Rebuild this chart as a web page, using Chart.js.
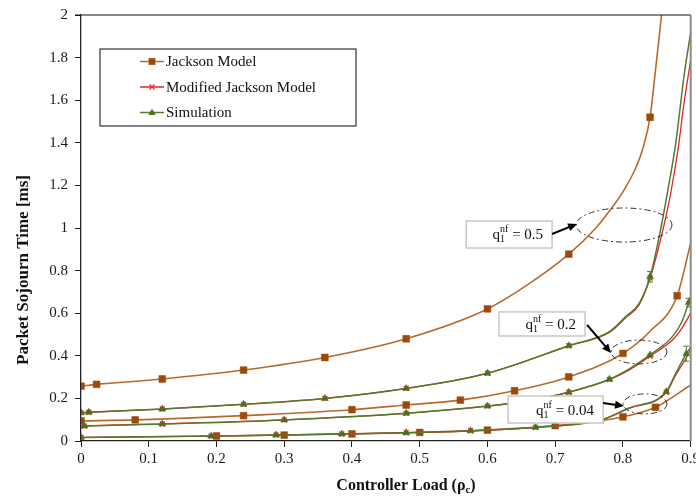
<!DOCTYPE html>
<html>
<head>
<meta charset="utf-8">
<script src="https://cdn.jsdelivr.net/npm/chart.js@4.4.0/dist/chart.umd.min.js"></script>
<style>
  html, body { margin: 0; padding: 0; background: #fff; }
  #wrap { width: 696px; height: 498px; }
</style>
</head>
<body>
<div id="wrap"><canvas id="chart"></canvas></div>
<script>
// axis ticks
const xTicks = [0, 0.1, 0.2, 0.3, 0.4, 0.5, 0.6, 0.7, 0.8, 0.9];
const yTicks = [0, 0.2, 0.4, 0.6, 0.8, 1, 1.2, 1.4, 1.6, 1.8, 2];

// q1nf = 0.5
const jack05MarkX = [0, 0.023, 0.12, 0.24, 0.36, 0.48, 0.6, 0.72, 0.84];
const jack05MarkY = [0.258, 0.266, 0.291, 0.333, 0.392, 0.48, 0.62, 0.877, 1.52];
const jack05LineX = [0.66, 0.76, 0.78, 0.80, 0.82, 0.83, 0.848, 0.857];
const jack05LineY = [0.735, 1.0, 1.08, 1.17, 1.29, 1.38, 1.74, 2.0];

const mod05MarkX = [0, 0.0115, 0.12, 0.24, 0.36, 0.48, 0.6, 0.72, 0.84];
const mod05MarkY = [0.133, 0.135, 0.150, 0.172, 0.20, 0.247, 0.318, 0.447, 0.765];
const mod05LineX = [0.78, 0.804, 0.824, 0.8596, 0.8705, 0.8827, 0.8887, 0.9];
const mod05LineY = [0.51, 0.578, 0.64, 1.0, 1.164, 1.40, 1.554, 1.79];

const sim05MarkX = [0, 0.0115, 0.12, 0.24, 0.36, 0.48, 0.6, 0.72, 0.84];
const sim05MarkY = [0.133, 0.135, 0.150, 0.172, 0.20, 0.247, 0.318, 0.447, 0.771];
const sim05Err   = [0, 0, 0, 0, 0, 0, 0, 0, 0.025];
const sim05LineX = [0.78, 0.804, 0.824, 0.856, 0.8655, 0.878, 0.89, 0.9];
const sim05LineY = [0.513, 0.584, 0.646, 1.0, 1.164, 1.40, 1.71, 1.92];

// q1nf = 0.2
const jack02MarkX = [0, 0.08, 0.24, 0.40, 0.48, 0.56, 0.64, 0.72, 0.80, 0.88];
const jack02MarkY = [0.094, 0.099, 0.119, 0.147, 0.169, 0.192, 0.236, 0.301, 0.411, 0.682];
const jack02LineX = [0.84, 0.9];
const jack02LineY = [0.515, 0.93];

const mod02MarkX = [0.005, 0.12, 0.30, 0.48, 0.60, 0.66, 0.72, 0.78, 0.84];
const mod02MarkY = [0.070, 0.080, 0.099, 0.130, 0.164, 0.189, 0.229, 0.288, 0.398];
const mod02LineX = [0, 0.81, 0.873, 0.887, 0.9];
const mod02LineY = [0.069, 0.335, 0.474, 0.53, 0.60];

const sim02MarkX = [0.005, 0.12, 0.30, 0.48, 0.60, 0.66, 0.72, 0.78, 0.84, 0.897];
const sim02MarkY = [0.070, 0.080, 0.099, 0.130, 0.164, 0.189, 0.229, 0.29, 0.404, 0.65];
const sim02Err   = [0, 0, 0, 0, 0, 0, 0, 0, 0, 0.02];
const sim02LineX = [0, 0.81, 0.873, 0.887, 0.9];
const sim02LineY = [0.069, 0.34, 0.49, 0.56, 0.68];

// q1nf = 0.04
const jack004MarkX = [0.2, 0.3, 0.4, 0.5, 0.6, 0.7, 0.8, 0.848];
const jack004MarkY = [0.0235, 0.028, 0.033, 0.040, 0.051, 0.072, 0.113, 0.158];
const jack004LineX = [0.175, 0.9];
const jack004LineY = [0.022, 0.263];

const mod004MarkX = [0, 0.192, 0.288, 0.385, 0.48, 0.575, 0.671, 0.767, 0.864];
const mod004MarkY = [0.017, 0.023, 0.028, 0.033, 0.039, 0.048, 0.064, 0.098, 0.228];
const mod004LineX = [0.809, 0.878, 0.8935, 0.9];
const mod004LineY = [0.153, 0.31, 0.39, 0.43];

const sim004MarkX = [0, 0.192, 0.288, 0.385, 0.48, 0.575, 0.671, 0.767, 0.864, 0.8935];
const sim004MarkY = [0.017, 0.023, 0.028, 0.033, 0.039, 0.048, 0.064, 0.098, 0.232, 0.41];
const sim004Err   = [0, 0, 0, 0, 0, 0, 0, 0, 0, 0.035];
const sim004LineX = [0.809, 0.878, 0.9];
const sim004LineY = [0.155, 0.318, 0.44];

const seriesNames = ['Jackson Model', 'Modified Jackson Model', 'Simulation'];

const FONT = '"Liberation Serif", "Times New Roman", serif';
const BROWN = '#b8692c', BROWN_MK = '#9c4a0c';
const RED = '#e3262b';
const GREEN = '#55792c', GREEN_MK = '#4a6e22';

function build(markX, markY, lineX, lineY, err) {
  const pts = markX.map((x, i) => ({ x: x, y: markY[i], m: true, e: err ? err[i] : 0 }))
    .concat(lineX.map((x, i) => ({ x: x, y: lineY[i], m: false, e: 0 })));
  return pts.sort((a, b) => a.x - b.x);
}

const styles = {
  jack: { borderColor: BROWN, backgroundColor: BROWN_MK, pointStyle: 'rect', r: 4.8, order: 2, borderWidth: 1.6 },
  mod:  { borderColor: RED, backgroundColor: RED, pointStyle: 'crossRot', r: 3.5, order: 1, borderWidth: 1.3 },
  sim:  { borderColor: GREEN, backgroundColor: GREEN_MK, pointStyle: 'triangle', r: 4, order: 0, borderWidth: 1.5 }
};

function dataset(kind, data) {
  const s = styles[kind];
  return {
    label: kind, data: data, order: s.order,
    borderColor: s.borderColor, backgroundColor: s.backgroundColor,
    borderWidth: s.borderWidth,
    pointStyle: s.pointStyle,
    pointBackgroundColor: s.backgroundColor,
    pointBorderColor: kind === 'mod' ? RED : s.backgroundColor,
    pointBorderWidth: kind === 'mod' ? 1.3 : 0.5,
    pointRadius: ctx => (ctx.raw && ctx.raw.m ? s.r : 0),
    pointHoverRadius: 0,
    cubicInterpolationMode: 'monotone',
    fill: false
  };
}

const datasets = [
  dataset('sim', build(sim05MarkX, sim05MarkY, sim05LineX, sim05LineY, sim05Err)),
  dataset('sim', build(sim02MarkX, sim02MarkY, sim02LineX, sim02LineY, sim02Err)),
  dataset('sim', build(sim004MarkX, sim004MarkY, sim004LineX, sim004LineY, sim004Err)),
  dataset('mod', build(mod05MarkX, mod05MarkY, mod05LineX, mod05LineY)),
  dataset('mod', build(mod02MarkX, mod02MarkY, mod02LineX, mod02LineY)),
  dataset('mod', build(mod004MarkX, mod004MarkY, mod004LineX, mod004LineY)),
  dataset('jack', build(jack05MarkX, jack05MarkY, jack05LineX, jack05LineY)),
  dataset('jack', build(jack02MarkX, jack02MarkY, jack02LineX, jack02LineY)),
  dataset('jack', build(jack004MarkX, jack004MarkY, jack004LineX, jack004LineY))
];

// callouts, in data units
const callouts = [
  { q: '0.5',  box: [0.5686, 1.033, 0.6954, 0.906], arrow: [0.6954, 0.972, 0.7323, 1.019], ell: [0.8016, 1.014, 0.0708, 0.080] },
  { q: '0.2',  box: [0.617, 0.606, 0.744, 0.493],   arrow: [0.747, 0.545, 0.7824, 0.413],  ell: [0.8237, 0.418, 0.0413, 0.056] },
  { q: '0.04', box: [0.6305, 0.211, 0.7707, 0.0845], arrow: [0.7707, 0.178, 0.8016, 0.164], ell: [0.8326, 0.174, 0.0324, 0.047] }
];

function marker(ctx, kind, x, y) {
  const s = styles[kind];
  ctx.save();
  ctx.fillStyle = s.backgroundColor;
  ctx.strokeStyle = kind === 'mod' ? RED : s.backgroundColor;
  ctx.lineWidth = 1.2;
  ctx.beginPath();
  if (kind === 'jack') {
    ctx.rect(x - 3.4, y - 3.4, 6.8, 6.8); ctx.fill();
  } else if (kind === 'sim') {
    ctx.moveTo(x, y - 4); ctx.lineTo(x + 3.6, y + 2.6); ctx.lineTo(x - 3.6, y + 2.6); ctx.closePath(); ctx.fill();
  } else {
    ctx.moveTo(x - 2.5, y - 2.5); ctx.lineTo(x + 2.5, y + 2.5);
    ctx.moveTo(x + 2.5, y - 2.5); ctx.lineTo(x - 2.5, y + 2.5); ctx.stroke();
  }
  ctx.restore();
}

function qLabel(ctx, rightX, baseY, val) {
  const big = '15px ' + FONT, small = '10px ' + FONT;
  ctx.font = big; const wq = ctx.measureText('q').width;
  ctx.font = small; const w1 = ctx.measureText('1').width, wnf = ctx.measureText('nf').width;
  ctx.font = big; const wv = ctx.measureText(' = ' + val).width;
  let x = rightX - (wq + Math.max(w1, wnf) + wv);
  ctx.fillStyle = '#111';
  ctx.textBaseline = 'alphabetic'; ctx.textAlign = 'left';
  ctx.font = big; ctx.fillText('q', x, baseY); x += wq;
  ctx.font = small; ctx.fillText('1', x, baseY + 3); ctx.fillText('nf', x, baseY - 7);
  x += Math.max(w1, wnf);
  ctx.font = big; ctx.fillText(' = ' + val, x, baseY);
}

const decor = {
  id: 'decor',
  afterDatasetsDraw(chart) {
    const { ctx, chartArea: a, scales: { x, y } } = chart;
    // error bars on simulation points
    chart.data.datasets.forEach((ds, i) => {
      const meta = chart.getDatasetMeta(i);
      meta.data.forEach((pt, j) => {
        const r = ds.data[j];
        if (!r.e) return;
        const y1 = y.getPixelForValue(r.y + r.e), y2 = y.getPixelForValue(r.y - r.e);
        ctx.save();
        ctx.strokeStyle = GREEN; ctx.lineWidth = 1;
        ctx.beginPath();
        ctx.moveTo(pt.x, y1); ctx.lineTo(pt.x, y2);
        ctx.moveTo(pt.x - 3, y1); ctx.lineTo(pt.x + 3, y1);
        ctx.moveTo(pt.x - 3, y2); ctx.lineTo(pt.x + 3, y2);
        ctx.stroke();
        ctx.restore();
      });
    });
    // callouts
    callouts.forEach(c => {
      ctx.save();
      const cx = x.getPixelForValue(c.ell[0]), cy = y.getPixelForValue(c.ell[1]);
      const rx = x.getPixelForValue(c.ell[0] + c.ell[2]) - cx;
      const ry = cy - y.getPixelForValue(c.ell[1] + c.ell[3]);
      ctx.strokeStyle = '#333'; ctx.lineWidth = 1; ctx.setLineDash([6, 3, 2, 3]);
      ctx.beginPath(); ctx.ellipse(cx, cy, rx, ry, 0, 0, Math.PI * 2); ctx.stroke();
      ctx.setLineDash([]);
      // box
      const bx1 = x.getPixelForValue(c.box[0]), by1 = y.getPixelForValue(c.box[1]);
      const bx2 = x.getPixelForValue(c.box[2]), by2 = y.getPixelForValue(c.box[3]);
      ctx.fillStyle = '#fff'; ctx.fillRect(bx1, by1, bx2 - bx1, by2 - by1);
      ctx.strokeStyle = '#c8c8c8'; ctx.lineWidth = 1.5;
      ctx.strokeRect(bx1, by1, bx2 - bx1, by2 - by1);
      qLabel(ctx, bx2 - 9, (by1 + by2) / 2 + 5, c.q);
      // arrow
      const ax1 = x.getPixelForValue(c.arrow[0]), ay1 = y.getPixelForValue(c.arrow[1]);
      const ax2 = x.getPixelForValue(c.arrow[2]), ay2 = y.getPixelForValue(c.arrow[3]);
      const ang = Math.atan2(ay2 - ay1, ax2 - ax1);
      ctx.strokeStyle = '#000'; ctx.fillStyle = '#000'; ctx.lineWidth = 2;
      ctx.beginPath(); ctx.moveTo(ax1, ay1);
      ctx.lineTo(ax2 - 6 * Math.cos(ang), ay2 - 6 * Math.sin(ang)); ctx.stroke();
      ctx.beginPath();
      ctx.moveTo(ax2, ay2);
      ctx.lineTo(ax2 - 9 * Math.cos(ang) + 4 * Math.sin(ang), ay2 - 9 * Math.sin(ang) - 4 * Math.cos(ang));
      ctx.lineTo(ax2 - 9 * Math.cos(ang) - 4 * Math.sin(ang), ay2 - 9 * Math.sin(ang) + 4 * Math.cos(ang));
      ctx.closePath(); ctx.fill();
      ctx.restore();
    });
  },
  afterDraw(chart) {
    const { ctx, chartArea: a } = chart;
    ctx.save();
    // top and right frame
    ctx.strokeStyle = '#111'; ctx.lineWidth = 1.2;
    ctx.beginPath(); ctx.moveTo(a.left - 6, a.top); ctx.lineTo(a.right, a.top); ctx.stroke();
    ctx.strokeStyle = '#8a8a8a'; ctx.lineWidth = 2;
    ctx.beginPath(); ctx.moveTo(a.right, a.top); ctx.lineTo(a.right, a.bottom); ctx.stroke();

    // legend
    const lx = a.left + 19, ly = a.top + 34;
    ctx.fillStyle = '#fff'; ctx.fillRect(lx, ly, 256, 77);
    ctx.strokeStyle = '#333'; ctx.lineWidth = 1.2; ctx.strokeRect(lx, ly, 256, 77);
    const kinds = ['jack', 'mod', 'sim'];
    kinds.forEach((k, i) => {
      const yy = ly + 12.5 + i * 25.5;
      ctx.strokeStyle = styles[k].borderColor; ctx.lineWidth = 1.5;
      ctx.beginPath(); ctx.moveTo(lx + 40, yy); ctx.lineTo(lx + 64, yy); ctx.stroke();
      marker(ctx, k, lx + 52, yy);
      ctx.fillStyle = '#111'; ctx.font = '15px ' + FONT;
      ctx.textAlign = 'left'; ctx.textBaseline = 'middle';
      ctx.fillText(seriesNames[i], lx + 66, yy + 1);
    });

    // axis titles
    ctx.fillStyle = '#111';
    ctx.font = 'bold 17px ' + FONT;
    ctx.textAlign = 'center'; ctx.textBaseline = 'middle';
    ctx.save();
    ctx.translate(24, 270); ctx.rotate(-Math.PI / 2);
    ctx.fillText('Packet Sojourn Time [ms]', 0, 0);
    ctx.restore();

    const t1 = 'Controller Load (\u03c1', t2 = 'c', t3 = ')';
    ctx.font = 'bold 16px ' + FONT; const w1 = ctx.measureText(t1).width, w3 = ctx.measureText(t3).width;
    ctx.font = 'bold 11px ' + FONT; const w2 = ctx.measureText(t2).width;
    let tx = 406 - (w1 + w2 + w3) / 2;
    ctx.textAlign = 'left'; ctx.textBaseline = 'alphabetic';
    ctx.font = 'bold 16px ' + FONT; ctx.fillText(t1, tx, 490); tx += w1;
    ctx.font = 'bold 11px ' + FONT; ctx.fillText(t2, tx, 493); tx += w2;
    ctx.font = 'bold 16px ' + FONT; ctx.fillText(t3, tx, 490);
    ctx.restore();
  }
};

const fmt = v => String(+(+v).toFixed(1));

new Chart(document.getElementById('chart'), {
  type: 'line',
  data: { datasets: datasets },
  options: {
    responsive: true,
    maintainAspectRatio: false,
    animation: false,
    parsing: { xAxisKey: 'x', yAxisKey: 'y' },
    layout: { padding: { top: 15, right: 4, left: 0, bottom: 0 } },
    plugins: { legend: { display: false }, tooltip: { enabled: false } },
    scales: {
      x: {
        type: 'linear', min: 0, max: 0.9,
        afterBuildTicks: s => { s.ticks = xTicks.map(v => ({ value: v })); },
        afterFit: s => { s.height = 57; s.paddingLeft = 0; s.paddingRight = 0; },
        ticks: { callback: fmt, font: { family: FONT, size: 15 }, color: '#1a1a1a', padding: 3, maxRotation: 0, autoSkip: false },
        grid: { display: true, drawOnChartArea: false, drawTicks: true, tickLength: 6, color: '#222', lineWidth: 1 },
        border: { display: true, color: '#222', width: 1.3 }
      },
      y: {
        type: 'linear', min: 0, max: 2,
        afterBuildTicks: s => { s.ticks = yTicks.map(v => ({ value: v })); },
        afterFit: s => { s.width = 81; s.paddingTop = 0; s.paddingBottom = 0; },
        ticks: { callback: fmt, font: { family: FONT, size: 15 }, color: '#1a1a1a', padding: 7 },
        grid: { display: true, drawOnChartArea: false, drawTicks: true, tickLength: 6, color: '#222', lineWidth: 1 },
        border: { display: true, color: '#222', width: 1.3 }
      }
    }
  },
  plugins: [decor]
});
</script>
</body>
</html>
